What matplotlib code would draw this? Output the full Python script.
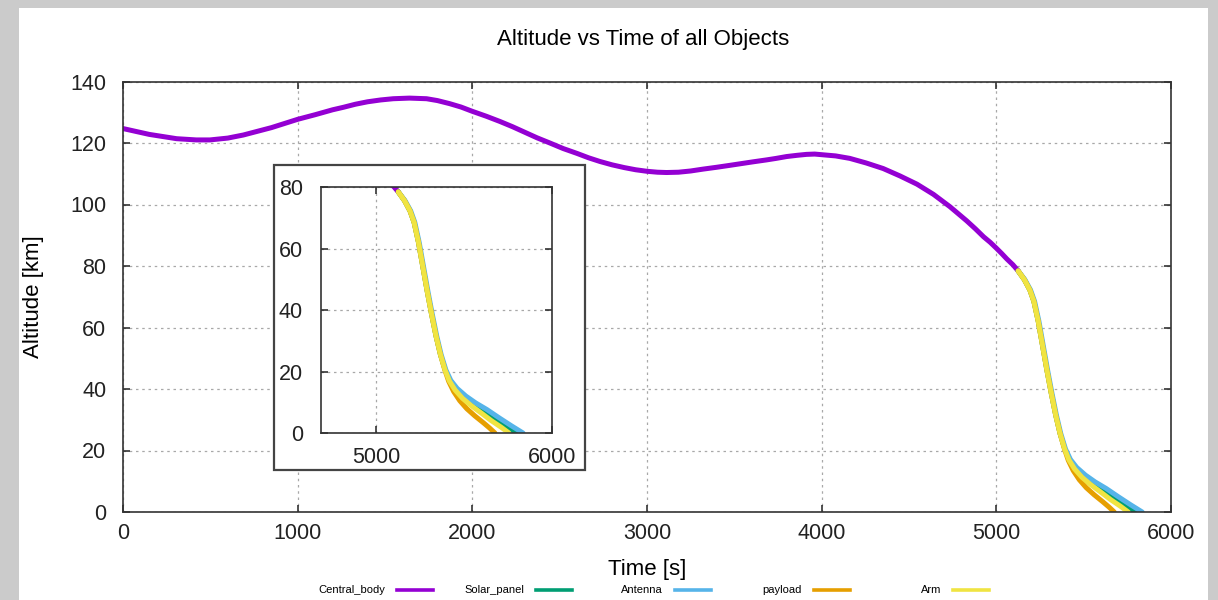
import matplotlib.pyplot as plt
import numpy as np
from matplotlib.lines import Line2D
from matplotlib.patches import Rectangle

plt.rcParams['font.family'] = ['Liberation Sans', 'DejaVu Sans']

# time [s] and altitude [km] of each object
central_t = [0, 150, 307, 420, 498, 600, 689, 850, 1000, 1100, 1200, 1261, 1330,
             1400, 1475, 1547, 1640, 1738, 1800, 1870, 1935, 2000, 2080, 2158,
             2230, 2300, 2370, 2444, 2520, 2600, 2665, 2730, 2800, 2870, 2935,
             3000, 3060, 3112, 3180, 3250, 3320, 3398, 3470, 3540, 3610, 3684,
             3740, 3800, 3860, 3913, 3960, 4000, 4080, 4161, 4255, 4352, 4448,
             4546, 4640, 4734, 4780, 4830, 4880, 4927, 4965, 5000, 5030, 5060,
             5095, 5125]
central_alt = [124.7, 122.8, 121.4, 121.0, 121.0, 121.6, 122.6, 125.0, 127.7, 129.2,
               130.8, 131.6, 132.6, 133.4, 134.0, 134.4, 134.6, 134.4, 133.8, 132.8,
               131.7, 130.3, 128.7, 127.0, 125.3, 123.5, 121.7, 120.0, 118.2, 116.6,
               115.2, 114.0, 112.9, 112.0, 111.3, 110.8, 110.5, 110.4, 110.5, 110.9,
               111.5, 112.1, 112.7, 113.3, 113.9, 114.5, 115.0, 115.6, 116.0, 116.3,
               116.4, 116.2, 115.8, 115.0, 113.5, 111.7, 109.3, 106.6, 103.3, 99.3,
               97.1, 94.7, 92.1, 89.5, 87.7, 85.8, 84.1, 82.3, 80.4, 78.4]

solar_t = [5125, 5160, 5192, 5215, 5240, 5265, 5290, 5315, 5340, 5365, 5392,
           5420, 5455, 5500, 5550, 5615, 5680, 5740, 5795]
solar_alt = [78.4, 75.6, 72.2, 68.5, 62.0, 54.0, 46.0, 38.5, 31.5, 25.5, 20.5,
             17.0, 14.3, 11.8, 9.5, 7.0, 4.4, 2.1, 0.0]

antenna_t = [5125, 5163, 5196, 5219, 5244, 5269, 5294, 5319, 5344, 5369, 5396,
             5424, 5460, 5510, 5565, 5630, 5700, 5770, 5835]
antenna_alt = [78.4, 75.6, 72.2, 68.5, 62.0, 54.0, 46.0, 38.5, 31.5, 25.5, 20.5,
               17.1, 14.5, 12.0, 9.8, 7.6, 4.9, 2.3, 0.0]

payload_t = [5125, 5160, 5192, 5215, 5240, 5265, 5290, 5315, 5340, 5365, 5390,
             5412, 5440, 5475, 5515, 5560, 5610, 5645, 5675]
payload_alt = [78.4, 75.6, 72.2, 68.5, 62.0, 54.0, 46.0, 38.5, 31.5, 25.5, 20.5,
               16.8, 13.5, 10.5, 7.9, 5.6, 3.3, 1.6, 0.0]

arm_t = [5125, 5160, 5192, 5215, 5240, 5265, 5290, 5315, 5340, 5365, 5391,
         5416, 5448, 5490, 5540, 5595, 5655, 5710, 5755]
arm_alt = [78.4, 75.6, 72.2, 68.5, 62.0, 54.0, 46.0, 38.5, 31.5, 25.5, 20.5,
           16.9, 14.0, 11.3, 8.9, 6.6, 4.0, 1.9, 0.0]

names = ['Central_body', 'Solar_panel', 'Antenna', 'payload', 'Arm']
series_t = [central_t, solar_t, antenna_t, payload_t, arm_t]
series_alt = [central_alt, solar_alt, antenna_alt, payload_alt, arm_alt]
colors = ['#9400d3', '#009e73', '#56b4e9', '#e69f00', '#f0e442']

W, H = 1218, 600
fig = plt.figure(figsize=(W / 100, H / 100), dpi=100, facecolor='#cbcbcb')

# white canvas on top of the grey backdrop
fig.add_artist(Rectangle((19 / W, 0), (1208 - 19) / W, 1 - 8 / H,
                         transform=fig.transFigure, facecolor='white',
                         edgecolor='none', zorder=-5))


def px_axes(x0, y0, x1, y1, **kw):
    return fig.add_axes([x0 / W, 1 - y1 / H, (x1 - x0) / W, (y1 - y0) / H], **kw)


def style(ax, pad_x, pad_y):
    ax.set_facecolor('white')
    ax.grid(True, color='#a8a8a8', linestyle=(0, (2, 3)), linewidth=0.9)
    ax.set_axisbelow(True)
    ax.tick_params(direction='in', length=5, width=1.1, top=True, right=True,
                   labelsize=15.5, colors='#222222')
    ax.tick_params(axis='x', pad=pad_x)
    ax.tick_params(axis='y', pad=pad_y)
    for s in ax.spines.values():
        s.set_color('#333333')
        s.set_linewidth(1.2)


def draw_curves(ax):
    for t, a, c in zip(series_t, series_alt, colors):
        ax.plot(t, a, color=c, lw=3.6, solid_capstyle='round',
                solid_joinstyle='round')


ax = px_axes(123, 81.5, 1171, 512)
style(ax, 8, 12)
draw_curves(ax)
ax.set_xlim(0, 6000)
ax.set_ylim(0, 140)
ax.set_xticks(np.arange(0, 6001, 1000))
ax.set_yticks(np.arange(0, 141, 20))

ax.set_xlabel('Time [s]', fontsize=16)
ax.xaxis.label.set_va('center')
ax.xaxis.set_label_coords(0.5, -(570 - 512) / 430.5)
ax.set_ylabel('Altitude [km]', fontsize=16)
ax.yaxis.label.set_va('center')
ax.yaxis.set_label_coords(-(123 - 33) / 1048, 0.5)

fig.text(643 / W, 1 - 40 / H, 'Altitude vs Time of all Objects', fontsize=16,
         ha='center', va='center')

# framed zoom on the descent
fig.add_artist(Rectangle((274 / W, 1 - 470 / H), (585 - 274) / W, (470 - 165) / H,
                         transform=fig.transFigure, facecolor='white',
                         edgecolor='#444444', linewidth=1.6, zorder=1))
axin = px_axes(321, 187, 552, 433, zorder=2)
style(axin, 10, 13)
draw_curves(axin)
axin.set_xlim(4685, 6000)
axin.set_ylim(0, 80)
axin.set_xticks([5000, 6000])
axin.set_yticks(np.arange(0, 81, 20))

# key along the bottom: label text right-aligned against its sample line
key_y = 1 - 590 / H
for i, (name, c) in enumerate(zip(names, colors)):
    x0 = 397 + i * 139
    fig.add_artist(Line2D([x0 / W, (x0 + 36) / W], [key_y, key_y],
                          transform=fig.transFigure, color=c, lw=2.6))
    fig.text((x0 - 12) / W, key_y, name, fontsize=8, ha='right', va='center')

plt.savefig('out.png', dpi=100, facecolor=fig.get_facecolor())
